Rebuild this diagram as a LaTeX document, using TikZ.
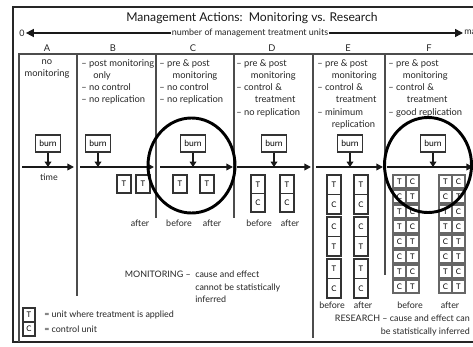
\documentclass[tikz,border=0pt]{standalone}
\usepackage{fontspec}
\setmainfont{Lato}
\usetikzlibrary{arrows.meta,shapes.geometric}
\begin{document}
\begin{tikzpicture}[x=0.75pt,y=0.75pt,yscale=-1,xscale=1,
  hdr/.style={inner sep=0.75pt,font=\fontsize{7}{9.2}\selectfont,text=black!85},
  lbl/.style={inner sep=0.75pt,font=\fontsize{6.7}{9.4}\selectfont,text=black!85},
  frame/.style={draw=black!85,line width=1.6pt},
  grid/.style={draw=black!70,line width=0.9pt},
  burnbox/.style={draw=black!80,line width=0.8pt,fill=white,minimum width=18.75pt,minimum height=12.75pt,inner sep=0pt,font=\fontsize{6.4}{7}\selectfont},
  tbox/.style={draw=black!80,line width=0.8pt,fill=white,minimum width=10.5pt,minimum height=13.5pt,inner sep=0pt,font=\fontsize{5.8}{6}\selectfont},
  fcell/.style={tbox,draw=black!60,line width=1pt,minimum width=9.75pt,minimum height=9.75pt},
  tline/.style={draw=black!90,line width=1.1pt,-{Triangle[length=5pt,width=5pt]}},
  dnarrow/.style={draw=black!90,line width=0.9pt,-{Triangle[length=4pt,width=5pt]}},
  axarrow/.style={draw=black!90,line width=1.1pt,-{Triangle[length=6pt,width=6pt]}},
  circ/.style={draw=black,line width=2.2pt,ellipse,minimum width=65.25pt,minimum height=71.25pt,inner sep=0pt}]
\useasboundingbox (0,0) rectangle (473,346);
\fill[white] (0,0) rectangle (473,346);
%Frame and table rules
\draw[frame] (473,7) -- (13,7) -- (13,342) -- (473,342);
\draw[grid] (473,54) -- (19,54) -- (19,342);
\draw[grid] (77,54) -- (77,296);
\draw[grid] (156,54) -- (156,218);
\draw[grid] (234,54) -- (234,218);
\draw[grid] (313,54) -- (313,338);
\draw[grid] (385,54) -- (385,275);
% Title
\node[inner sep=0.75pt,font=\fontsize{9.1}{11}\selectfont,text=black!90] (title) at (252,18) {Management Actions:\ \ Monitoring vs. Research};
% Axis
\node[lbl] (zero) at (22,33) {0};
\node[lbl] (axLbl) at (250,33) {number of management treatment units};
\node[lbl,anchor=west] (many) at (463,33) {many};
\draw[axarrow] (axLbl.west) -- (zero.east);
\draw[axarrow] (axLbl.east) -- (many.west);
% Column letters
\node[hdr] (colA) at (47,48) {A};
\node[hdr] (colB) at (113,48) {B};
\node[hdr] (colC) at (193,48) {C};
\node[hdr] (colD) at (272,48) {D};
\node[hdr] (colE) at (348,48) {E};
\node[hdr] (colF) at (429,48) {F};
% Text Node
\node[hdr,anchor=north,align=center] (hdA) at (47,58) {no\\monitoring};
% Text Node
\node[hdr,anchor=north west,align=left] (hdB) at (80,58) {-- post monitoring\\\hspace*{9pt}only\\-- no control\\-- no replication};
% Text Node
\node[hdr,anchor=north west,align=left] (hdC) at (158,58) {-- pre \& post\\\hspace*{10pt}monitoring\\-- no control\\-- no replication};
% Text Node
\node[hdr,anchor=north west,align=left] (hdD) at (235,58) {-- pre \& post\\\hspace*{11pt}monitoring\\-- control \&\\\hspace*{14pt}treatment\\-- no replication};
% Text Node
\node[hdr,anchor=north west,align=left] (hdE) at (316,58) {-- pre \& post\\\hspace*{11pt}monitoring\\-- control \&\\\hspace*{14pt}treatment\\-- minimum\\\hspace*{11pt}replication};
% Text Node
\node[hdr,anchor=north west,align=left] (hdF) at (387,58) {-- pre \& post\\\hspace*{11pt}monitoring\\-- control \&\\\hspace*{14pt}treatment\\-- good replication};
% Burn boxes and time lines
\node[burnbox] (burnA) at (48,143.5) {burn};
\coordinate (tlA0) at (22,167); \coordinate (tlA1) at (74,167);
\draw[tline] (tlA0) -- (tlA1);
\draw[dnarrow] (burnA) -- (burnA |- tlA0);
\node[lbl] (time) at (49,177) {time};
\node[burnbox] (burnB) at (98,143.5) {burn};
\coordinate (tlB0) at (80,167); \coordinate (tlB1) at (154,167);
\draw[tline] (tlB0) -- (tlB1);
\draw[dnarrow] (burnB) -- (burnB |- tlB0);
\node[burnbox] (burnC) at (193,143.5) {burn};
\coordinate (tlC0) at (160,167); \coordinate (tlC1) at (233,167);
\draw[tline] (tlC0) -- (tlC1);
\draw[dnarrow] (burnC) -- (burnC |- tlC0);
\node[burnbox] (burnD) at (274,143.5) {burn};
\coordinate (tlD0) at (237,167); \coordinate (tlD1) at (311,167);
\draw[tline] (tlD0) -- (tlD1);
\draw[dnarrow] (burnD) -- (burnD |- tlD0);
\node[burnbox] (burnE) at (350,143.5) {burn};
\coordinate (tlE0) at (316,167); \coordinate (tlE1) at (383,167);
\draw[tline] (tlE0) -- (tlE1);
\draw[dnarrow] (burnE) -- (burnE |- tlE0);
\node[burnbox] (burnF) at (433,143.5) {burn};
\coordinate (tlF0) at (387,167); \coordinate (tlF1) at (473,167);
\draw[tline] (tlF0) -- (tlF1);
\draw[dnarrow] (burnF) -- (burnF |- tlF0);
% B and C units
\node[tbox] (bT1) at (124,184) {T};
\node[tbox] (bT2) at (143,184) {T};
\node[lbl] (bAfter) at (140,223) {after};
\node[tbox] (cT1) at (180,184) {T};
\node[tbox] (cT2) at (207,184) {T};
\node[lbl] (cBefore) at (179,223) {before};
\node[lbl] (cAfter) at (212,223) {after};
% D units
\node[tbox,minimum height=13.9pt] (dT1) at (258,184.25) {T};
\node[tbox,minimum height=13.9pt] (dC1) at (258,202.75) {C};
\node[tbox,minimum height=13.9pt] (dT2) at (287,184.25) {T};
\node[tbox,minimum height=13.9pt] (dC2) at (287,202.75) {C};
\node[lbl] (dBefore) at (259,223) {before};
\node[lbl] (dAfter) at (290,223) {after};
% E units
\foreach \u [count=\i] in {T,C,C,T,T,C}{
  \pgfmathsetmacro{\ey}{184.75+19.5*(\i-1)+3*int((\i-1)/2)}
  \node[tbox,minimum height=14.6pt] (eL\i) at (334,\ey) {\u};
  \node[tbox,minimum height=14.6pt] (eR\i) at (361,\ey) {\u};
}
\node[lbl] (eBefore) at (332,305) {before};
\node[lbl] (eAfter) at (363,305) {after};
% F units
\foreach \l/\r [count=\i] in {T/C,C/T,T/C,T/C,C/T,C/T,T/C,C/T}{
  \node[fcell] (fLa\i) at (399.5,166.5+15*\i) {\l};
  \node[fcell] (fLb\i) at (412.5,166.5+15*\i) {\r};
  \node[fcell] (fRa\i) at (445.5,166.5+15*\i) {\l};
  \node[fcell] (fRb\i) at (458.5,166.5+15*\i) {\r};
}
\node[lbl] (fBefore) at (410,305) {before};
\node[lbl] (fAfter) at (450,305) {after};
% Circles
\node[circ] (circC) at (191.5,165.5) {};
\node[circ] (circF) at (428,165) {};
% Monitoring / research notes
\node[lbl,anchor=north east] (monHead) at (192,270) {MONITORING --};
\node[lbl,anchor=north west,align=left] (monBody) at (194,270) {cause and effect\\cannot be statistically\\inferred};
\node[lbl,anchor=north east,align=right] (resTxt) at (471,314) {RESEARCH -- cause and effect can\\be statistically inferred};
% Legend
\node[tbox,minimum width=9pt,minimum height=10.5pt] (legT) at (29,315) {T};
\node[tbox,minimum width=9pt,minimum height=10.5pt] (legC) at (29,329) {C};
\node[lbl,anchor=west] (legTt) at (43,315) {= unit where treatment is applied};
\node[lbl,anchor=west] (legCt) at (43,329) {= control unit};
\end{tikzpicture}
\end{document}
